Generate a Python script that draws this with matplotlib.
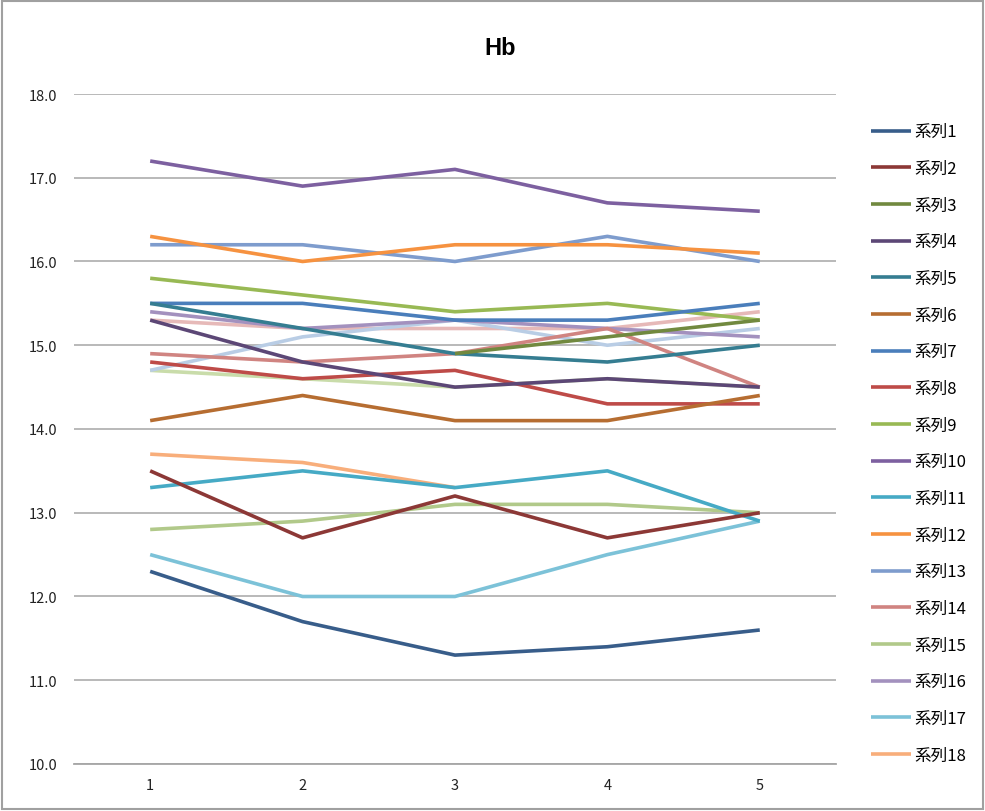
import numpy as np
import matplotlib
matplotlib.use("Agg")
import matplotlib.pyplot as plt
from matplotlib.patches import Rectangle

plt.rcParams['font.family'] = ['Noto Sans CJK JP', 'DejaVu Sans']

x = [1, 2, 3, 4, 5]
nan = np.nan

# series values (series 19-21 exist but are cut from the legend)
s1 = [12.3, 11.7, 11.3, 11.4, 11.6]
s2 = [13.5, 12.7, 13.2, 12.7, 13.0]
s3 = [nan, nan, 14.9, 15.1, 15.3]
s4 = [15.3, 14.8, 14.5, 14.6, 14.5]
s5 = [15.5, 15.2, 14.9, 14.8, 15.0]
s6 = [14.1, 14.4, 14.1, 14.1, 14.4]
s7 = [15.5, 15.5, 15.3, 15.3, 15.5]
s8 = [14.8, 14.6, 14.7, 14.3, 14.3]
s9 = [15.8, 15.6, 15.4, 15.5, 15.3]
s10 = [17.2, 16.9, 17.1, 16.7, 16.6]
s11 = [13.3, 13.5, 13.3, 13.5, 12.9]
s12 = [16.3, 16.0, 16.2, 16.2, 16.1]
s13 = [16.2, 16.2, 16.0, 16.3, 16.0]
s14 = [14.9, 14.8, 14.9, 15.2, 14.5]
s15 = [12.8, 12.9, 13.1, 13.1, 13.0]
s16 = [15.4, 15.2, 15.3, 15.2, 15.1]
s17 = [12.5, 12.0, 12.0, 12.5, 12.9]
s18 = [13.7, 13.6, 13.3, nan, nan]
s19 = [14.7, 15.1, 15.3, 15.0, 15.2]
s20 = [15.3, 15.2, 15.2, 15.2, 15.4]
s21 = [14.7, 14.6, 14.5, 14.6, 14.5]

series = [s1, s2, s3, s4, s5, s6, s7, s8, s9, s10, s11,
          s12, s13, s14, s15, s16, s17, s18, s19, s20, s21]
labels = ['系列%d' % (i + 1) for i in range(len(series))]
colors = ['#385D8A', '#8C3836', '#71893F', '#5C4776', '#357D91', '#B66D31',
          '#4A7EBB', '#BE4B48', '#98B954', '#7D60A0', '#46AAC5', '#F69240',
          '#7E9CCD', '#D08481', '#B1C98A', '#A391BE', '#7CC2D8', '#F8AE7B',
          '#B9CDE5', '#E6B9B8', '#C9DCAA']
n_legend = 18

fig = plt.figure(figsize=(9.85, 8.12), dpi=100)
ax = fig.add_axes([0.0751, 0.0579, 0.7736, 0.8251])

lines = []
# draw later series first so series 1.. sit on top like Excel
for i in range(len(series) - 1, -1, -1):
    ln, = ax.plot(x, series[i], color=colors[i], lw=2.6, label=labels[i],
                  solid_capstyle='butt', zorder=3 + (len(series) - i) * 0.01)
    lines.append(ln)
lines = lines[::-1]

ax.set_xlim(0.5, 5.5)
ax.set_ylim(10, 18)
ax.set_yticks(np.arange(10, 18.1, 1))
ax.set_yticklabels(['%.1f' % v for v in np.arange(10, 18.1, 1)])
ax.set_xticks(x)
ax.set_xticklabels([str(v) for v in x])
ax.yaxis.grid(True, color='#A6A6A6', lw=1.1)
ax.set_axisbelow(True)
for s in ['left', 'right', 'top']:
    ax.spines[s].set_visible(False)
ax.spines['bottom'].set_color('#A6A6A6')
ax.spines['bottom'].set_linewidth(1.3)
ax.tick_params(axis='both', length=0, labelsize=10.5, colors='#222222', pad=10)
ax.tick_params(axis='y', pad=12)

fig.text(0.508, 0.94, 'Hb', ha='center', va='center', fontsize=17,
         fontweight='bold', family=['Liberation Sans', 'DejaVu Sans'])

fig.legend(handles=lines[:n_legend], labels=labels[:n_legend],
           loc='upper left', bbox_to_anchor=(0.877, 0.855), frameon=False,
           fontsize=12, handlelength=2.4, handletextpad=0.25,
           labelspacing=1.18, borderaxespad=0)

fig.add_artist(Rectangle((0.002, 0.002), 0.996, 0.996, transform=fig.transFigure,
                         fill=False, ec='#A0A0A0', lw=1.5))

fig.savefig('out.png', dpi=100)
